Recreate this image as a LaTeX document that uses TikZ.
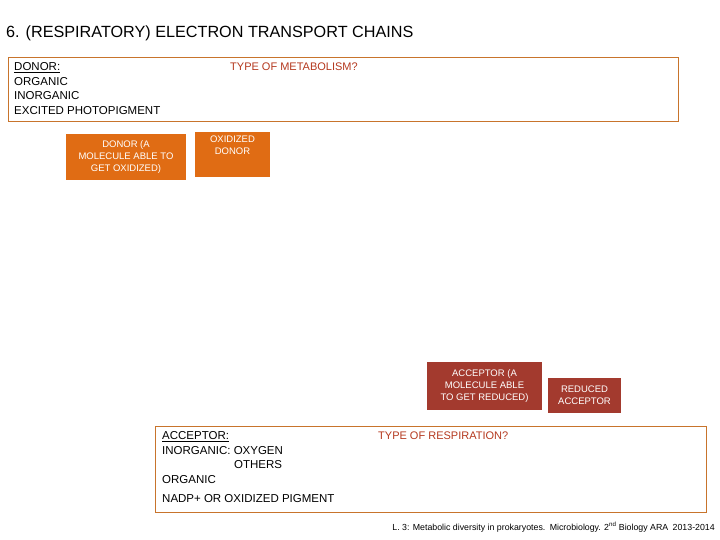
\documentclass[tikz,border=0pt]{standalone}
\usepackage{fontspec}
\setmainfont{Liberation Sans}
\definecolor{donorfill}{HTML}{E06C14}
\definecolor{accfill}{HTML}{A33A2E}
\definecolor{frame}{HTML}{C8742C}
\definecolor{qred}{HTML}{B4381E}
\begin{document}
\begin{tikzpicture}[x=1pt,y=-1pt,
  every node/.style={inner sep=0pt, font=\fontsize{9}{11}\selectfont},
  framebox/.style={draw=frame, line width=0.8pt},
  donorbox/.style={fill=donorfill, text=white, align=center, font=\fontsize{9.5}{12}\selectfont},
  accbox/.style={fill=accfill, text=white, align=center, font=\fontsize{9.5}{12}\selectfont},
  question/.style={text=qred, font=\fontsize{11}{13}\selectfont, anchor=north west}
]
\useasboundingbox (0,0) rectangle (720,540);
\node[anchor=west, font=\fontsize{16.2}{18}\selectfont] (title) at (6,33) {6. (RESPIRATORY) ELECTRON TRANSPORT CHAINS};

% donor side
\draw[framebox] (8,57) rectangle (678,121);
\node[anchor=north west, align=left, font=\fontsize{11.5}{14.5}\selectfont] (donorlist) at (14,62.5)
  {\underline{DONOR:}\\ORGANIC\\INORGANIC\\EXCITED PHOTOPIGMENT};
\node[question] (metab) at (230,62.5) {TYPE OF METABOLISM?};
\node[donorbox, minimum width=120pt, minimum height=46pt] (donor) at (126,157)
  {DONOR (A\\MOLECULE ABLE TO\\GET OXIDIZED)};
\node[donorbox, minimum width=75pt, minimum height=45pt, anchor=north] (oxdonor) at (232.5,132)
  {\\[-5pt]OXIDIZED\\DONOR\\[8pt]};

% acceptor side
\node[accbox, minimum width=115pt, minimum height=48pt] (acceptor) at (484.5,386)
  {ACCEPTOR (A\\MOLECULE ABLE\\TO GET REDUCED)};
\node[accbox, minimum width=73pt, minimum height=35pt] (redacc) at (584.5,395.5)
  {REDUCED\\ACCEPTOR};
\draw[framebox] (155,426) rectangle (706,512);
\node[anchor=north west, align=left, font=\fontsize{11.5}{14.5}\selectfont] (acclist) at (162,431.5)
  {\underline{ACCEPTOR:}\\INORGANIC: OXYGEN\\\hspace*{72pt}OTHERS\\ORGANIC\\[5pt]NADP+ OR OXIDIZED PIGMENT};
\node[question] (resp) at (378,431.5) {TYPE OF RESPIRATION?};

\node[anchor=east, font=\fontsize{8.8}{10}\selectfont] (footer) at (715,527)
  {L. 3: Metabolic diversity in prokaryotes.\enspace Microbiology. 2\textsuperscript{nd} Biology ARA\enspace 2013-2014};
\end{tikzpicture}
\end{document}
